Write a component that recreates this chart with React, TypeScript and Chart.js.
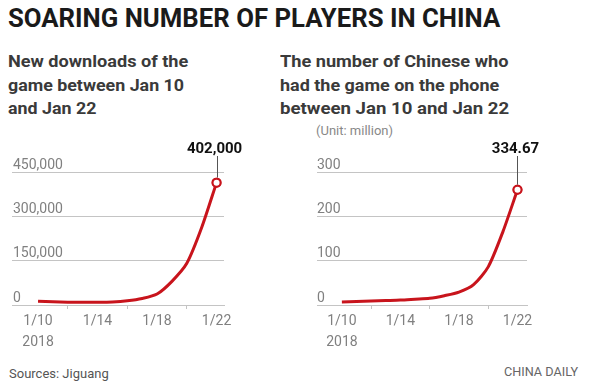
import React, { useEffect, useLayoutEffect, useRef } from "react";
import { Chart, registerables } from "chart.js";

Chart.register(...registerables);

const days = [10, 11, 12, 13, 14, 15, 16, 17, 18, 19, 20, 21, 22];
const xTickValues = [10, 12, 14, 16, 18, 20, 22];
const xLabels: Record<number, string | string[]> = { 10: ["1/10", "2018"], 14: "1/14", 18: "1/18", 22: "1/22" };

const downloads = [13000, 11000, 9500, 9000, 9000, 10000, 14000, 22000, 37000, 80000, 141000, 262000, 414000];
const downloadTicks = [0, 150000, 300000, 450000];
const downloadLabel = "402,000";

const owners = [7, 8, 9, 10, 11, 13, 15, 21, 29, 46, 86, 165, 260];
const ownerTicks = [0, 100, 200, 300];
const ownerLabel = "334.67";

const RED = "#c8141c";
const GRID = "#c4c4c4";
const TICKFONT = "Roboto, 'Liberation Sans', sans-serif";

function FitText({ width, children }: { width: number; children: React.ReactNode }) {
  const ref = useRef<HTMLSpanElement>(null);
  useLayoutEffect(() => {
    const el = ref.current;
    if (!el) return;
    el.style.transform = "none";
    const w = el.offsetWidth;
    if (w > 0) el.style.transform = `scaleX(${width / w})`;
  }, [width]);
  return (
    <span ref={ref} style={{ display: "inline-block", whiteSpace: "nowrap", transformOrigin: "left center" }}>
      {children}
    </span>
  );
}

type PanelProps = {
  values: number[];
  yTicks: number[];
  yFmt: (v: number) => string;
  label: string;
  padLeft: number;
  padRight: number;
  xMin: number;
  xMax: number;
  yPad: number;
};

function Panel({ values, yTicks, yFmt, label, padLeft, padRight, xMin, xMax, yPad }: PanelProps) {
  const ref = useRef<HTMLCanvasElement>(null);
  useEffect(() => {
    if (!ref.current) return;
    const lastIdx = values.length - 1;
    const annot = {
      id: "annot",
      afterDatasetsDraw(chart: any) {
        const meta = chart.getDatasetMeta(0);
        const pt = meta.data[lastIdx];
        if (!pt) return;
        const ctx = chart.ctx;
        ctx.save();
        ctx.strokeStyle = "#555";
        ctx.lineWidth = 1;
        ctx.beginPath();
        ctx.moveTo(Math.round(pt.x) + 0.5, 26);
        ctx.lineTo(Math.round(pt.x) + 0.5, pt.y - 5);
        ctx.stroke();
        ctx.fillStyle = "#111";
        ctx.font = "bold 15px Roboto, 'Liberation Sans', sans-serif";
        ctx.textAlign = "center";
        ctx.textBaseline = "middle";
        ctx.fillText(label, pt.x - 2, 19);
        ctx.restore();
        pt.draw(ctx, chart.chartArea);
      },
    };
    const chart = new Chart(ref.current, {
      type: "line",
      data: {
        datasets: [
          {
            data: days.map((d, i) => ({ x: d, y: values[i] })),
            borderColor: RED,
            borderWidth: 3,
            tension: 0.25,
            pointRadius: values.map((_, i) => (i === lastIdx ? 4 : 0)),
            pointBackgroundColor: "#fff",
            pointBorderColor: RED,
            pointBorderWidth: 2,
            clip: false as any,
          },
        ],
      },
      options: {
        animation: false,
        responsive: false,
        maintainAspectRatio: false,
        layout: { padding: { left: padLeft, right: padRight, top: 42, bottom: 0 } },
        plugins: { legend: { display: false }, tooltip: { enabled: false } },
        scales: {
          x: {
            type: "linear",
            min: xMin,
            max: xMax,
            afterBuildTicks: (s: any) => {
              s.ticks = xTickValues.map((v) => ({ value: v }));
            },
            afterFit: (s: any) => {
              s.height = 50;
            },
            border: { display: true, color: GRID, width: 1 },
            grid: {
              drawOnChartArea: false,
              drawTicks: true,
              tickLength: 4,
              tickColor: (c: any) => (c.tick && [12, 16, 20].includes(c.tick.value) ? GRID : "rgba(0,0,0,0)"),
            },
            ticks: {
              autoSkip: false,
              maxRotation: 0,
              padding: 2,
              color: "#808080",
              font: { family: TICKFONT, size: 14, lineHeight: 1.5 },
              callback: (v: any) => xLabels[v as number] ?? "",
            },
          },
          y: {
            min: 0,
            max: yTicks[yTicks.length - 1],
            afterBuildTicks: (s: any) => {
              s.ticks = yTicks.map((v) => ({ value: v }));
            },
            afterFit: (s: any) => {
              s.width = 0;
            },
            border: { display: false },
            grid: { color: GRID, lineWidth: 1, drawTicks: false },
            ticks: {
              mirror: true,
              padding: yPad,
              labelOffset: -7,
              color: "#808080",
              font: { family: TICKFONT, size: 14 },
              callback: (v: any) => yFmt(v as number),
            },
          },
        },
      },
      plugins: [annot],
    });
    return () => chart.destroy();
  }, []);
  return <canvas ref={ref} width={295} height={225} style={{ width: 295, height: 225, display: "block" }} />;
}

const fmtThousands = (v: number) => v.toLocaleString("en-US");
const fmtPlain = (v: number) => String(v);

export default function App() {
  const sub: React.CSSProperties = {
    position: "absolute",
    fontFamily: "Roboto, 'Liberation Sans', sans-serif",
    fontWeight: 700,
    fontSize: 16,
    lineHeight: "23.5px",
    color: "#3a3a3a",
  };
  return (
    <div style={{ position: "fixed", left: 0, top: 0, width: 590, height: 384, background: "#fff", overflow: "hidden" }}>
      <div style={{ position: "absolute", left: 8, top: 4, fontFamily: "Roboto, 'Liberation Sans', sans-serif", fontWeight: 700, fontSize: 25, lineHeight: "30px", color: "#1a1a1a" }}>
        <FitText width={492}>SOARING NUMBER OF PLAYERS IN CHINA</FitText>
      </div>
      <div style={{ ...sub, left: 8, top: 50 }}>
        <div><FitText width={180}>New downloads of the</FitText></div>
        <div><FitText width={176}>game between Jan 10</FitText></div>
        <div><FitText width={88}>and Jan 22</FitText></div>
      </div>
      <div style={{ ...sub, left: 280, top: 50 }}>
        <div><FitText width={228}>The number of Chinese who</FitText></div>
        <div><FitText width={219}>had the game on the phone</FitText></div>
        <div><FitText width={229}>between Jan 10 and Jan 22</FitText></div>
      </div>
      <div style={{ position: "absolute", left: 316, top: 123, fontFamily: TICKFONT, fontSize: 13, color: "#888" }}>
        (Unit: million)
      </div>
      <div style={{ position: "absolute", left: 0, top: 130 }}>
        <Panel values={downloads} yTicks={downloadTicks} yFmt={fmtThousands} label={downloadLabel} padLeft={12} padRight={71} xMin={8.25} xMax={22.5} yPad={1} />
      </div>
      <div style={{ position: "absolute", left: 295, top: 130 }}>
        <Panel values={owners} yTicks={ownerTicks} yFmt={fmtPlain} label={ownerLabel} padLeft={22} padRight={63} xMin={8.3} xMax={22.65} yPad={0} />
      </div>
      <div style={{ position: "absolute", left: 9, top: 366, fontFamily: TICKFONT, fontSize: 13, color: "#555" }}>
        Sources: Jiguang
      </div>
      <div style={{ position: "absolute", left: 504, top: 364, fontFamily: TICKFONT, fontSize: 13, color: "#666" }}>
        <FitText width={74}>CHINA DAILY</FitText>
      </div>
    </div>
  );
}
